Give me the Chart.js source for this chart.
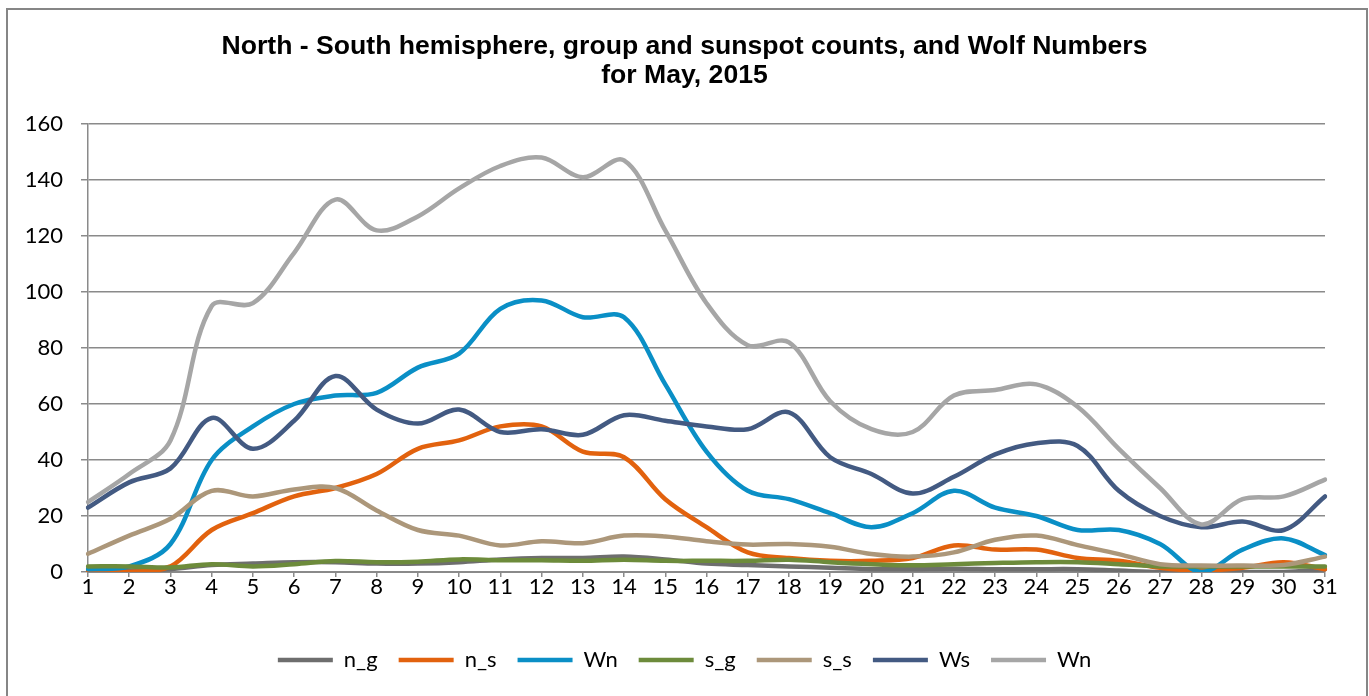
<!DOCTYPE html>
<html lang="en">
<head>
  <meta charset="UTF-8" />
  <title>Sunspot counts May 2015</title>
  <script src="https://cdn.jsdelivr.net/npm/chart.js"></script>
  <style>
    * { margin: 0; padding: 0; box-sizing: border-box; }
    body { background: #ffffff; width: 1369px; height: 696px; overflow: hidden; }
    .chart-box { position: relative; width: 1369px; height: 696px; }
  </style>
</head>
<body>
  <div class="chart-box">
    <canvas id="sunChart" width="1369" height="696"></canvas>
  </div>

  <script>
    // days of the month
    const days = ['1','2','3','4','5','6','7','8','9','10','11','12','13','14','15','16',
                  '17','18','19','20','21','22','23','24','25','26','27','28','29','30','31'];

    const nG  = [0.5, 0.5, 1, 2.5, 3, 3.5, 3.5, 3, 3, 3.5, 4.5, 5, 5, 5.5, 4.5, 3, 2.5, 2, 1.5, 1, 1, 1.2, 1, 1, 1, 0.5, 0, 0, 0, 0, 1];
    const nS  = [0, 0, 2, 15, 21, 27, 30, 35, 44, 47, 52, 52, 43, 41, 26, 16, 7, 5, 4, 4, 5, 9.5, 8, 8, 5, 4, 1.5, 0.5, 1.5, 3.5, 1];
    const wN  = [1, 2, 10, 40, 52, 60, 63, 64, 73, 78, 94, 97, 91, 91, 67, 43, 29, 26, 21, 16, 21, 29, 23, 20, 15, 15, 10, 0, 8, 12, 6];
    const sG  = [2, 2, 1.6, 2.8, 2, 2.8, 3.9, 3.5, 3.7, 4.5, 4.2, 4.2, 4, 4.4, 4, 4, 4, 4.4, 3.5, 2.8, 2.4, 2.8, 3.2, 3.5, 3.5, 2.8, 2, 2, 2, 2, 2];
    const sS  = [6.5, 13, 19, 29, 27, 29.5, 30, 22, 15, 13, 9.5, 11, 10.3, 13, 12.7, 11, 9.8, 10, 9, 6.4, 5.5, 7, 11.5, 13, 9.6, 6.4, 2.8, 2.3, 2.3, 2.5, 5.5];
    const wS  = [23, 32, 37, 55, 44, 54, 70, 58, 53, 58, 50, 51, 49, 56, 54, 52, 51, 57, 41, 35, 28, 34, 42, 46, 45, 29, 20, 16, 18, 15, 27];
    const wN2 = [25, 35, 47, 95, 96, 114, 133, 122, 127, 137, 145, 148, 141, 147, 122, 96, 81, 82, 61, 51, 50, 63, 65, 67, 59, 44, 30, 17, 26, 27, 33];

    const seriesNames  = ['n_g', 'n_s', 'Wn', 's_g', 's_s', 'Ws', 'Wn'];
    const seriesData   = [nG, nS, wN, sG, sS, wS, wN2];
    const seriesColors = ['#6E6E6E', '#E2620E', '#0A8FC6', '#6D8B3B', '#AC977A', '#435A82', '#A6A6A6'];

    const titleLines = ['North - South hemisphere, group and sunspot counts, and Wolf Numbers', 'for May, 2015'];
    const yTicks = { min: 0, max: 160, step: 20 };

    const tickFont = { family: 'Lato, "Open Sans", sans-serif', size: 22 };
    const gridGray = '#8A8A8A';

    // outer frame like the spreadsheet chart border
    const framePlugin = {
      id: 'frame',
      beforeDraw(chart) {
        const ctx = chart.ctx;
        ctx.save();
        ctx.fillStyle = '#ffffff';
        ctx.fillRect(0, 0, chart.width, chart.height);
        ctx.strokeStyle = '#868686';
        ctx.lineWidth = 2;
        ctx.strokeRect(7, 9, 1360, 700);
        ctx.restore();
      }
    };

    const datasets = seriesData.map((vals, i) => ({
      label: seriesNames[i],
      data: vals,
      borderColor: seriesColors[i],
      backgroundColor: seriesColors[i],
      borderWidth: 4.5,
      borderCapStyle: 'round',
      borderJoinStyle: 'round',
      pointRadius: 0,
      pointHoverRadius: 0,
      tension: 0.35,
      fill: false,
      yAxisID: 'y',
      order: seriesData.length - i   // later series drawn on top
    }));

    const ctx = document.getElementById('sunChart').getContext('2d');
    new Chart(ctx, {
      type: 'line',
      data: { labels: days, datasets: datasets },
      plugins: [framePlugin],
      options: {
        responsive: false,
        animation: false,
        layout: { padding: { left: 22, right: 22, top: 0, bottom: 15 } },
        plugins: {
          title: {
            display: true,
            text: titleLines,
            color: '#000',
            font: { family: '"Liberation Sans", Arial, sans-serif', size: 26.6, weight: 'bold', lineHeight: 1.09 },
            padding: { top: 32, bottom: 34 }
          },
          legend: {
            display: true,
            position: 'bottom',
            labels: {
              usePointStyle: true,
              pointStyle: 'line',
              pointStyleWidth: 55,
              color: '#000',
              font: tickFont,
              padding: 21,
              sort: (a, b) => a.datasetIndex - b.datasetIndex
            }
          },
          tooltip: { enabled: false }
        },
        scales: {
          x: {
            type: 'category',
            offset: false,
            grid: {
              display: true,
              drawOnChartArea: false,
              drawTicks: true,
              tickLength: 5,
              color: gridGray,
              lineWidth: 1.5,
              offset: false
            },
            border: { display: true, color: gridGray, width: 2 },
            ticks: { color: '#000', font: tickFont, padding: -3, maxRotation: 0, autoSkip: false },
            afterFit(scale) { scale.height = 56; }
          },
          y: {
            type: 'linear',
            position: 'left',
            min: yTicks.min,
            max: yTicks.max,
            grid: {
              color: gridGray,
              lineWidth: 1.5,
              drawTicks: true,
              tickLength: 7
            },
            border: { display: true, color: gridGray, width: 1.5 },
            ticks: { stepSize: yTicks.step, color: '#000', font: tickFont, padding: 18 },
            afterFit(scale) { scale.width = 66; }
          },
          // empty spacer on the right so the plot ends where the reference does
          spacer: {
            type: 'linear',
            position: 'right',
            display: true,
            grid: { display: false },
            ticks: { display: false },
            border: { display: false },
            afterFit(scale) { scale.width = 22; }
          }
        }
      }
    });
  </script>
</body>
</html>
